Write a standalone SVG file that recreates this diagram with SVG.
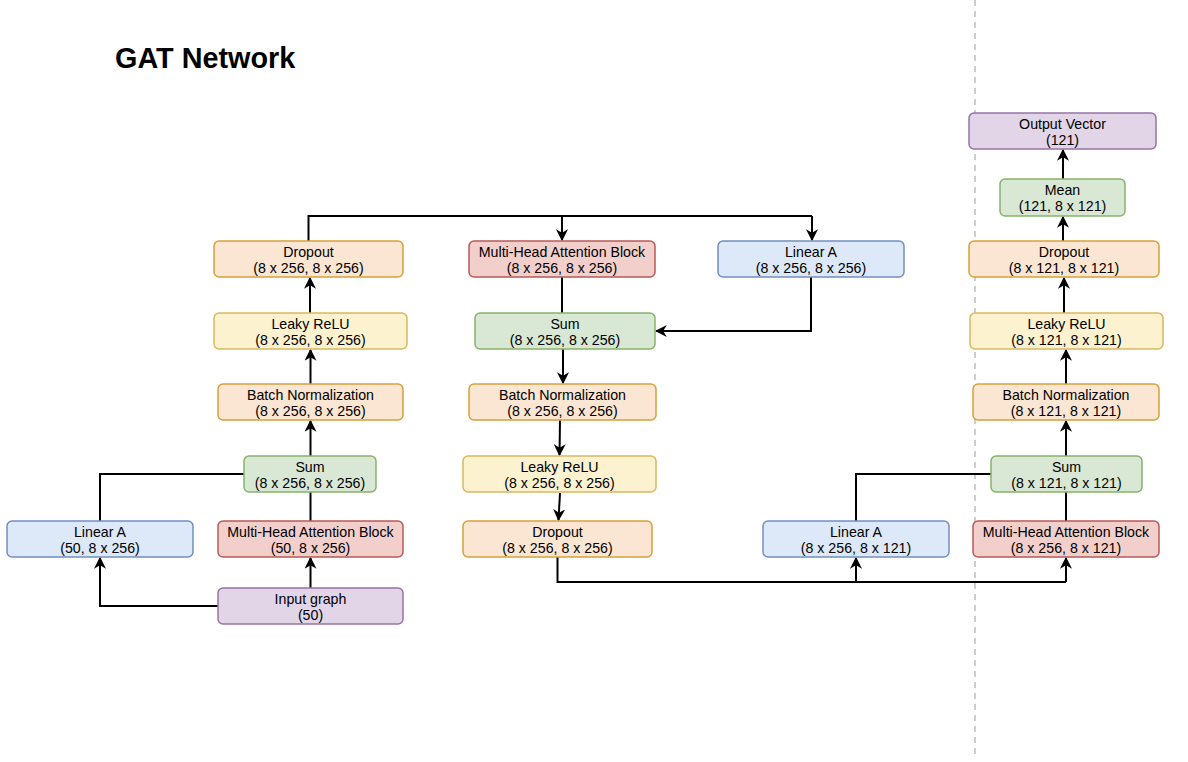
<svg xmlns="http://www.w3.org/2000/svg" width="1188" height="762" viewBox="0 0 1188 762">
  <style>
    .box { stroke-width: 1.5; }
    .orange { fill: #fae6d2; stroke: #d7a03a; }
    .yellow { fill: #fcf2cf; stroke: #d8b960; }
    .green { fill: #d8e8d4; stroke: #86b36c; }
    .red { fill: #f3cfcc; stroke: #b85a55; }
    .blue { fill: #dde8f8; stroke: #718fc0; }
    .purple { fill: #e1d5e7; stroke: #9673a6; }
    .lbl { font-family: "Liberation Sans", Arial, sans-serif; font-size: 14.2px; fill: #000; text-anchor: middle; }
    .title { font-family: "Liberation Sans", Arial, sans-serif; font-size: 28.8px; font-weight: bold; fill: #000; }
    .edge { fill: none; stroke: #000; stroke-width: 2; }
    .arr { marker-end: url(#arrow); }
  </style>
  <defs>
    <marker id="arrow" viewBox="0 0 10 10" refX="9" refY="5" markerWidth="12" markerHeight="12" markerUnits="userSpaceOnUse" orient="auto">
      <path d="M0,0 L10,5 L0,10 L3,5 Z" fill="#000"/>
    </marker>
  </defs>

  <rect width="1188" height="762" fill="#fff"/>

  <text class="title" x="115" y="68">GAT Network</text>

  <!-- separator -->
  <line x1="975" y1="0" x2="975" y2="756" stroke="#bdbdbd" stroke-width="1.5" stroke-dasharray="6 5"/>

  <!-- connectors -->
  <g id="edges">
    <!-- left column -->
    <path class="edge arr" d="M310.5,588 V558"/>
    <path class="edge arr" d="M218,606 H100 V558"/>
    <path class="edge" d="M310.5,521 V492"/>
    <path class="edge" d="M100,521 V474 H244"/>
    <path class="edge arr" d="M310.5,456 V421"/>
    <path class="edge arr" d="M310.5,384 V350"/>
    <path class="edge arr" d="M310,313 V278"/>
    <!-- top bus -->
    <path class="edge" d="M308.5,241 V216 H812"/>
    <path class="edge arr" d="M562,216 V240"/>
    <path class="edge arr" d="M812,216 V240"/>
    <!-- middle column -->
    <path class="edge" d="M562,277 V313"/>
    <path class="edge arr" d="M811,277 V331 H656"/>
    <path class="edge arr" d="M563,349 V383"/>
    <path class="edge arr" d="M560,420 L559.5,455"/>
    <path class="edge arr" d="M560,493 L558.5,520"/>
    <!-- bottom bus -->
    <path class="edge" d="M557.5,557 V582 H1066"/>
    <path class="edge arr" d="M856,582 V558"/>
    <path class="edge arr" d="M1066,582 V558"/>
    <!-- right column -->
    <path class="edge" d="M856,521 V474 H991"/>
    <path class="edge" d="M1066,521 V492"/>
    <path class="edge arr" d="M1066,456 V421"/>
    <path class="edge arr" d="M1066,384 V350"/>
    <path class="edge arr" d="M1064,313 V278"/>
    <path class="edge arr" d="M1063,241 V217"/>
    <path class="edge arr" d="M1063,179 V150"/>
  </g>

  <!-- left column -->
  <g id="input-graph">
    <rect class="box purple" x="218" y="588" width="185" height="36" rx="5"/>
    <text class="lbl" x="310.5" y="603.5">Input graph</text>
    <text class="lbl" x="310.5" y="619.5">(50)</text>
  </g>
  <g id="mha-1">
    <rect class="box red" x="218" y="521" width="185" height="36" rx="5"/>
    <text class="lbl" x="310.5" y="536.5">Multi-Head Attention Block</text>
    <text class="lbl" x="310.5" y="552.5">(50, 8 x 256)</text>
  </g>
  <g id="linear-1">
    <rect class="box blue" x="7" y="521" width="186" height="36" rx="5"/>
    <text class="lbl" x="100" y="536.5">Linear A</text>
    <text class="lbl" x="100" y="552.5">(50, 8 x 256)</text>
  </g>
  <g id="sum-1">
    <rect class="box green" x="244" y="456" width="132" height="36" rx="5"/>
    <text class="lbl" x="310" y="471.5">Sum</text>
    <text class="lbl" x="310" y="487.5">(8 x 256, 8 x 256)</text>
  </g>
  <g id="bn-1">
    <rect class="box orange" x="218" y="384" width="185" height="36" rx="5"/>
    <text class="lbl" x="310.5" y="399.5">Batch Normalization</text>
    <text class="lbl" x="310.5" y="415.5">(8 x 256, 8 x 256)</text>
  </g>
  <g id="relu-1">
    <rect class="box yellow" x="214" y="313" width="193" height="36" rx="5"/>
    <text class="lbl" x="310.5" y="328.5">Leaky ReLU</text>
    <text class="lbl" x="310.5" y="344.5">(8 x 256, 8 x 256)</text>
  </g>
  <g id="dropout-1">
    <rect class="box orange" x="214" y="241" width="189" height="36" rx="5"/>
    <text class="lbl" x="308.5" y="256.5">Dropout</text>
    <text class="lbl" x="308.5" y="272.5">(8 x 256, 8 x 256)</text>
  </g>

  <!-- middle column -->
  <g id="mha-2">
    <rect class="box red" x="469" y="241" width="186" height="36" rx="5"/>
    <text class="lbl" x="562" y="256.5">Multi-Head Attention Block</text>
    <text class="lbl" x="562" y="272.5">(8 x 256, 8 x 256)</text>
  </g>
  <g id="linear-2">
    <rect class="box blue" x="718" y="241" width="186" height="36" rx="5"/>
    <text class="lbl" x="811" y="256.5">Linear A</text>
    <text class="lbl" x="811" y="272.5">(8 x 256, 8 x 256)</text>
  </g>
  <g id="sum-2">
    <rect class="box green" x="475" y="313" width="180" height="36" rx="5"/>
    <text class="lbl" x="565" y="328.5">Sum</text>
    <text class="lbl" x="565" y="344.5">(8 x 256, 8 x 256)</text>
  </g>
  <g id="bn-2">
    <rect class="box orange" x="469" y="384" width="187" height="36" rx="5"/>
    <text class="lbl" x="562.5" y="399.5">Batch Normalization</text>
    <text class="lbl" x="562.5" y="415.5">(8 x 256, 8 x 256)</text>
  </g>
  <g id="relu-2">
    <rect class="box yellow" x="463" y="456" width="193" height="36" rx="5"/>
    <text class="lbl" x="559.5" y="471.5">Leaky ReLU</text>
    <text class="lbl" x="559.5" y="487.5">(8 x 256, 8 x 256)</text>
  </g>
  <g id="dropout-2">
    <rect class="box orange" x="463" y="521" width="189" height="36" rx="5"/>
    <text class="lbl" x="557.5" y="536.5">Dropout</text>
    <text class="lbl" x="557.5" y="552.5">(8 x 256, 8 x 256)</text>
  </g>

  <!-- right column -->
  <g id="linear-3">
    <rect class="box blue" x="763" y="521" width="186" height="36" rx="5"/>
    <text class="lbl" x="856" y="536.5">Linear A</text>
    <text class="lbl" x="856" y="552.5">(8 x 256, 8 x 121)</text>
  </g>
  <g id="mha-3">
    <rect class="box red" x="973" y="521" width="186" height="36" rx="5"/>
    <text class="lbl" x="1066" y="536.5">Multi-Head Attention Block</text>
    <text class="lbl" x="1066" y="552.5">(8 x 256, 8 x 121)</text>
  </g>
  <g id="sum-3">
    <rect class="box green" x="991" y="456" width="151" height="36" rx="5"/>
    <text class="lbl" x="1066.5" y="471.5">Sum</text>
    <text class="lbl" x="1066.5" y="487.5">(8 x 121, 8 x 121)</text>
  </g>
  <g id="bn-3">
    <rect class="box orange" x="973" y="384" width="186" height="36" rx="5"/>
    <text class="lbl" x="1066" y="399.5">Batch Normalization</text>
    <text class="lbl" x="1066" y="415.5">(8 x 121, 8 x 121)</text>
  </g>
  <g id="relu-3">
    <rect class="box yellow" x="970" y="313" width="193" height="36" rx="5"/>
    <text class="lbl" x="1066.5" y="328.5">Leaky ReLU</text>
    <text class="lbl" x="1066.5" y="344.5">(8 x 121, 8 x 121)</text>
  </g>
  <g id="dropout-3">
    <rect class="box orange" x="969" y="241" width="190" height="36" rx="5"/>
    <text class="lbl" x="1064" y="256.5">Dropout</text>
    <text class="lbl" x="1064" y="272.5">(8 x 121, 8 x 121)</text>
  </g>
  <g id="mean">
    <rect class="box green" x="1000" y="179" width="125" height="37" rx="5"/>
    <text class="lbl" x="1062.5" y="194.5">Mean</text>
    <text class="lbl" x="1062.5" y="210.5">(121, 8 x 121)</text>
  </g>
  <g id="output-vector">
    <rect class="box purple" x="969" y="113" width="187" height="36" rx="5"/>
    <text class="lbl" x="1062.5" y="128.5">Output Vector</text>
    <text class="lbl" x="1062.5" y="144.5">(121)</text>
  </g>
</svg>
